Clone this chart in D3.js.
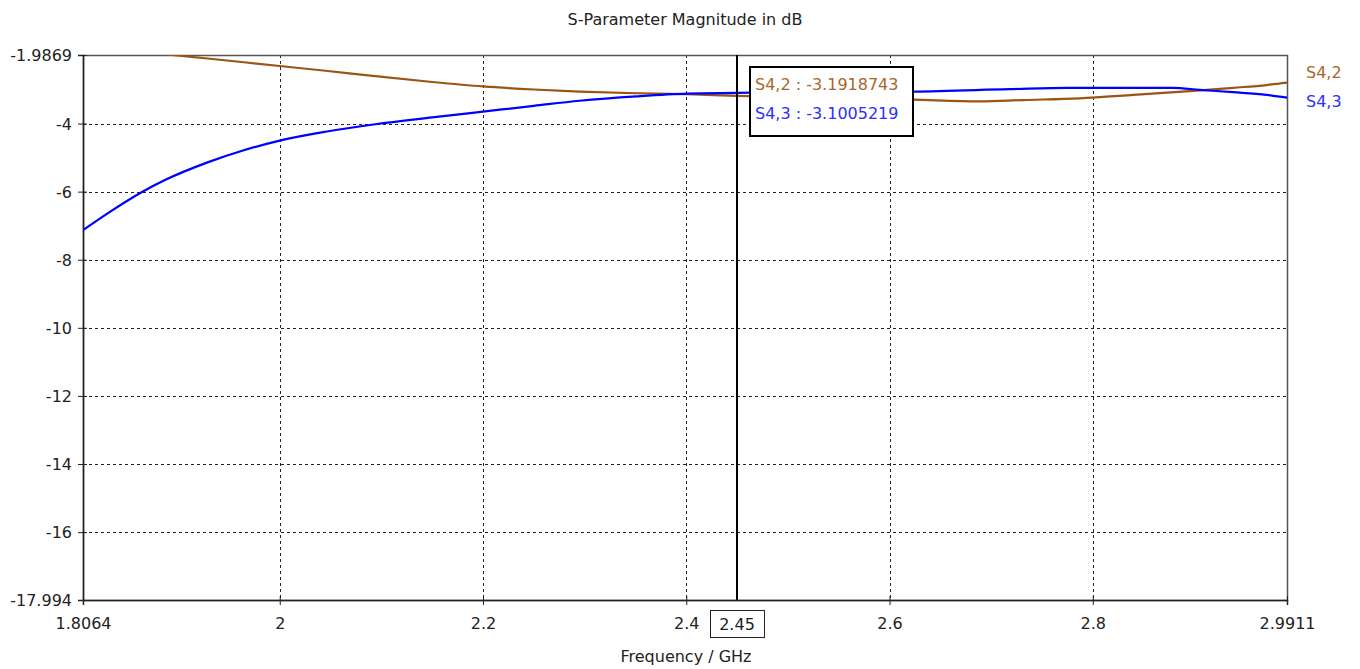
<!DOCTYPE html>
<html>
<head>
<meta charset="utf-8">
<style>
  body { margin: 0; background: #fff; }
  svg { display: block; font-family: "DejaVu Sans", sans-serif; }
  .grid line { stroke: #222; stroke-dasharray: 3,3; stroke-width: 1; }
  .tick-label { font-size: 16px; fill: #222; }
</style>
</head>
<body>
<svg id="chart" width="1360" height="669"></svg>
<script src="https://cdn.jsdelivr.net/npm/d3@7"></script>
<script>
// Axis ranges and tick labels, as shown on the plot.
var xDomain = [1.8064, 2.9911];
var yDomain = [-17.994, -1.9869];
var xTicks = [1.8064, 2, 2.2, 2.4, 2.6, 2.8, 2.9911];
var yTicks = [-1.9869, -4, -6, -8, -10, -12, -14, -16, -17.994];

// S4,2 (brown); runs above the top edge below ~1.89 GHz.
var s42Freq = [1.8064, 1.85, 1.887, 1.929, 2.0, 2.045, 2.094, 2.15, 2.2, 2.25, 2.295, 2.351, 2.401,
               2.45, 2.5, 2.55, 2.623, 2.689, 2.731, 2.787, 2.84, 2.899, 2.938, 2.971, 2.9911];
var s42Db   = [-1.74, -1.85, -1.96, -2.09, -2.31, -2.45, -2.61, -2.78, -2.91, -3.00, -3.06, -3.11, -3.14,
               -3.19, -3.22, -3.25, -3.30, -3.35, -3.31, -3.26, -3.16, -3.04, -2.95, -2.87, -2.80];

// S4,3 (blue)
var s43Freq = [1.8064, 1.831, 1.8645, 1.887, 1.929, 1.963, 2.0, 2.045, 2.094, 2.15, 2.2, 2.25, 2.295,
               2.351, 2.401, 2.45, 2.5, 2.623, 2.718, 2.775, 2.879, 2.905, 2.938, 2.971, 2.9911];
var s43Db   = [-7.13, -6.63, -6.01, -5.66, -5.14, -4.80, -4.50, -4.24, -4.02, -3.82, -3.65, -3.48, -3.33,
               -3.20, -3.12, -3.10, -3.08, -3.06, -2.99, -2.95, -2.95, -3.01, -3.08, -3.16, -3.24];

// Marker readout at 2.45 GHz
var markerFreq = 2.45;
var markerText = ['S4,2 : -3.1918743', 'S4,3 : -3.1005219'];

var series = [
  { name: 'S4,2', freq: s42Freq, db: s42Db, line: '#9a5512', label: '#a8672a' },
  { name: 'S4,3', freq: s43Freq, db: s43Db, line: '#0000ff', label: '#2d2dff' }
];

var W = 1360, H = 669;
var m = { top: 55, right: 73, bottom: 69, left: 83 };
var svg = d3.select('#chart');

var x = d3.scaleLinear().domain(xDomain).range([m.left, W - m.right]);
var y = d3.scaleLinear().domain(yDomain).range([H - m.bottom, m.top]);

svg.append('defs').append('clipPath').attr('id', 'plot-clip')
  .append('rect')
  .attr('x', m.left).attr('y', m.top)
  .attr('width', W - m.left - m.right).attr('height', H - m.top - m.bottom);

// Title
svg.append('text')
  .attr('x', 685).attr('y', 25)
  .attr('text-anchor', 'middle')
  .style('font-size', '16px').style('fill', '#222')
  .text('S-Parameter Magnitude in dB');

// Dashed grid at the inner ticks
var grid = svg.append('g').attr('class', 'grid');
grid.selectAll('line.gx')
  .data(xTicks.slice(1, -1))
  .enter().append('line')
  .attr('x1', function(d) { return Math.round(x(d)) + 0.5; })
  .attr('x2', function(d) { return Math.round(x(d)) + 0.5; })
  .attr('y1', m.top).attr('y2', H - m.bottom);
grid.selectAll('line.gy')
  .data(yTicks.slice(1, -1))
  .enter().append('line')
  .attr('y1', function(d) { return Math.round(y(d)) + 0.5; })
  .attr('y2', function(d) { return Math.round(y(d)) + 0.5; })
  .attr('x1', m.left).attr('x2', W - m.right);

// Frame: top and right grey, axes black
svg.append('rect')
  .attr('x', m.left + 0.5).attr('y', m.top + 0.5)
  .attr('width', W - m.left - m.right).attr('height', H - m.top - m.bottom)
  .attr('fill', 'none').attr('stroke', '#555').attr('stroke-width', 1.5);

// Axes with ticks crossing the axis line
var yAxis = d3.axisLeft(y).tickValues(yTicks).tickSize(5)
  .tickFormat(function(d) { return String(d); });
var yg = svg.append('g').attr('transform', 'translate(' + m.left + ',0)').call(yAxis);
yg.select('.domain').attr('stroke', '#222').attr('stroke-width', 1.5);
yg.selectAll('.tick line').attr('stroke', '#222').attr('x2', 4).attr('x1', -5);
yg.selectAll('.tick text').attr('class', 'tick-label').attr('x', -11).attr('dy', '0.36em')
  .style('font-family', '"DejaVu Sans", sans-serif');

var xAxis = d3.axisBottom(x).tickValues(xTicks).tickSize(5)
  .tickFormat(function(d) { return String(d); });
var xg = svg.append('g').attr('transform', 'translate(0,' + (H - m.bottom) + ')').call(xAxis);
xg.select('.domain').attr('stroke', '#222').attr('stroke-width', 1.5);
xg.selectAll('.tick line').attr('stroke', '#222').attr('y1', -4).attr('y2', 5);
xg.selectAll('.tick text').attr('class', 'tick-label').attr('y', 18).attr('dy', '0.71em')
  .style('font-family', '"DejaVu Sans", sans-serif');

// Axis title
svg.append('text')
  .attr('x', 686).attr('y', 662)
  .attr('text-anchor', 'middle')
  .style('font-size', '16px').style('fill', '#222')
  .text('Frequency / GHz');

// Curves
var line = d3.line()
  .x(function(d) { return x(d[0]); })
  .y(function(d) { return y(d[1]); })
  .curve(d3.curveMonotoneX);

svg.append('g').attr('clip-path', 'url(#plot-clip)')
  .selectAll('path.curve')
  .data(series)
  .enter().append('path')
  .attr('class', 'curve')
  .attr('fill', 'none')
  .attr('stroke', function(s) { return s.line; })
  .attr('stroke-width', 2.2)
  .attr('d', function(s) { return line(d3.zip(s.freq, s.db)); });

// Series names at the right edge
svg.selectAll('text.sname')
  .data(series)
  .enter().append('text')
  .attr('class', 'sname')
  .attr('x', W - m.right + 19)
  .attr('y', function(s, i) { return 78 + i * 29; })
  .style('font-size', '16px')
  .style('fill', function(s) { return s.label; })
  .text(function(s) { return s.name; });

// Marker line at 2.45 GHz
var mx = Math.round(x(markerFreq));
svg.append('line')
  .attr('x1', mx).attr('x2', mx)
  .attr('y1', m.top).attr('y2', H - m.bottom)
  .attr('stroke', '#000').attr('stroke-width', 2);

// Boxed frequency label on the x axis
var mLabel = svg.append('g');
mLabel.append('rect')
  .attr('x', mx - 26.5).attr('y', 610.5).attr('width', 54).attr('height', 27)
  .attr('fill', '#fff').attr('stroke', '#222').attr('stroke-width', 1);
mLabel.append('text')
  .attr('x', mx).attr('y', 630)
  .attr('text-anchor', 'middle')
  .style('font-size', '16px').style('fill', '#222')
  .text(String(markerFreq));

// Readout box
var box = svg.append('g');
box.append('rect')
  .attr('x', mx + 13).attr('y', 67).attr('width', 163).attr('height', 69)
  .attr('fill', '#fff').attr('stroke', '#000').attr('stroke-width', 2);
box.selectAll('text')
  .data(series)
  .enter().append('text')
  .attr('x', mx + 18)
  .attr('y', function(s, i) { return 90 + i * 29; })
  .style('font-size', '16px')
  .style('fill', function(s) { return s.label; })
  .text(function(s, i) { return markerText[i]; });
</script>
</body>
</html>
